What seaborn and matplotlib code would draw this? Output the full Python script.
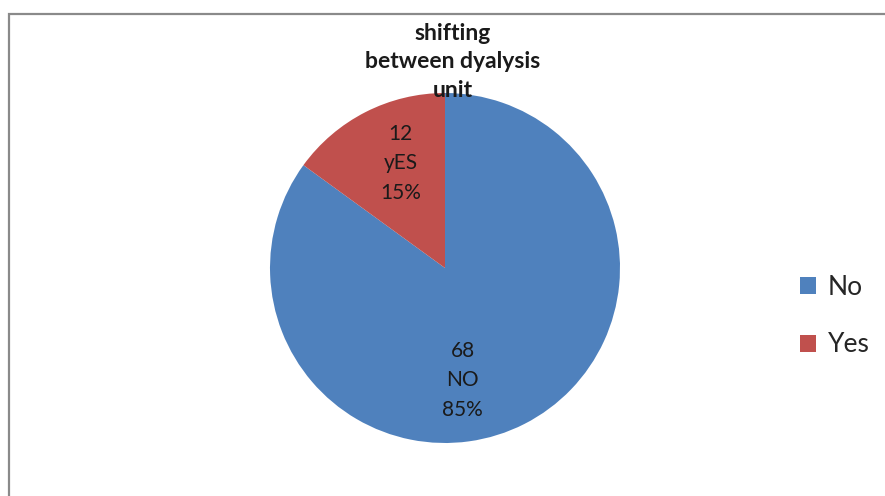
import numpy as np
import matplotlib
matplotlib.use("Agg")
import matplotlib.pyplot as plt
from matplotlib.patches import Patch, Rectangle
import seaborn as sns

categories = ["No", "Yes"]
counts = [68, 12]
percents = [85, 15]
slice_labels = ["NO", "yES"]
colors = ["#4F81BD", "#C0504D"]
title = "shifting\nbetween dyalysis\nunit"

sns.set_theme(style="white")
plt.rcParams['font.family'] = ['Lato', 'DejaVu Sans']

W, H = 885, 496
fig = plt.figure(figsize=(W / 100, H / 100), dpi=100)
fig.patch.set_facecolor("white")

# chart-area border (Excel style), right/bottom edges run off the image
fig.patches.append(Rectangle((9 / W, -0.1), 1.2, 1 - 14 / H + 0.1,
                             transform=fig.transFigure, fill=False,
                             edgecolor="#8a8a8a", linewidth=1.6, zorder=0))

cx, cy, half = 445, 268, 200
ax = fig.add_axes([(cx - half) / W, (H - cy - half) / H, 2 * half / W, 2 * half / H])
radius = 175 / half
wedges, texts = ax.pie(counts, colors=colors, startangle=90, counterclock=False,
                       radius=radius, labels=[f"{c}\n{l}\n{p}%" for c, l, p in zip(counts, slice_labels, percents)],
                       labeldistance=0.66,
                       wedgeprops=dict(linewidth=0),
                       textprops=dict(fontsize=15, color="#1a1a1a", ha="center", va="center", linespacing=1.6))
# Excel places the data labels; re-position along the radius
label_angles = [-81, 113]
for t, a in zip(texts, label_angles):
    r = 0.65 * radius
    t.set_position((r * np.cos(np.radians(a)), r * np.sin(np.radians(a))))
    t.set_ha("center")
    t.set_va("center")
ax.set_xlim(-1, 1)
ax.set_ylim(-1, 1)
ax.set_aspect("equal")
ax.axis("off")

fig.text(453 / W, 1 - 62 / H, title, ha="center", va="center", fontsize=16.5,
         fontweight="bold", color="#1a1a1a", linespacing=1.42)

handles = [Patch(facecolor=c, edgecolor="none") for c in colors]
fig.legend(handles, categories, loc="center left", bbox_to_anchor=(800 / W, 1 - 316 / H),
           frameon=False, fontsize=19, handlelength=0.6, handleheight=0.6,
           handletextpad=0.45, labelspacing=1.25, borderpad=0, borderaxespad=0)

fig.savefig("out.png", dpi=100, facecolor="white")
